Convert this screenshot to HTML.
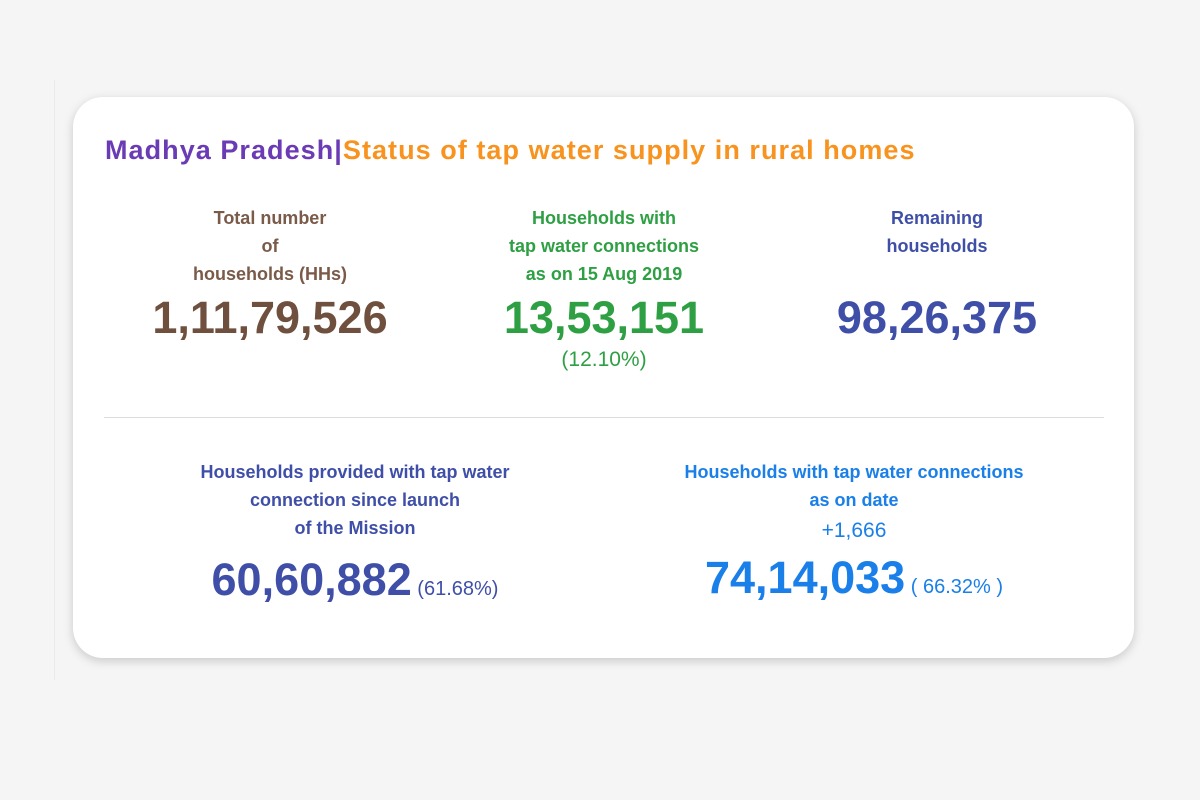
<!DOCTYPE html>
<html><head><meta charset="utf-8"><style>
body{margin:0;width:1200px;height:800px;background:#f5f5f5;font-family:"Liberation Sans",sans-serif;position:relative;overflow:hidden}
.vline{position:absolute;left:54px;top:80px;width:1px;height:600px;background:#ebebeb}
.card{position:absolute;left:73px;top:97px;width:1061px;height:561px;background:#fff;border-radius:30px;box-shadow:0 3px 10px rgba(0,0,0,0.18)}
.t{position:absolute;text-align:center;font-weight:bold;white-space:nowrap}
.lab{font-size:18px;line-height:28px}
.big{font-size:45px;line-height:50px;font-weight:bold}
.pct{font-size:20px;font-weight:normal}
</style></head><body>
<div class="vline"></div>
<div class="card"></div>
<div class="t" style="left:105px;top:135px;font-size:27px;letter-spacing:1.05px;text-align:left"><span style="color:#6a3bb4">Madhya Pradesh</span><span style="color:#6a3bb4">|</span><span style="color:#f7931e">Status of tap water supply in rural homes</span></div>

<div class="t lab" style="left:120px;width:300px;top:204px;color:#7a5a48">Total number<br>of<br>households (HHs)</div>
<div class="t big" style="left:120px;width:300px;top:293px;color:#6f4f3e">1,11,79,526</div>

<div class="t lab" style="left:454px;width:300px;top:204px;color:#2ea043">Households with<br>tap water connections<br>as on 15 Aug 2019</div>
<div class="t big" style="left:454px;width:300px;top:293px;color:#2ea043">13,53,151</div>
<div class="t" style="left:454px;width:300px;top:348px;font-size:21px;font-weight:normal;color:#2ea043">(12.10%)</div>

<div class="t lab" style="left:787px;width:300px;top:204px;color:#3f4fa8">Remaining<br>households</div>
<div class="t big" style="left:787px;width:300px;top:293px;color:#3f4fa8">98,26,375</div>

<div style="position:absolute;left:104px;top:417px;width:1000px;height:1px;background:#dcdcdc"></div>

<div class="t lab" style="left:155px;width:400px;top:458px;color:#3f4fa8">Households provided with tap water<br>connection since launch<br>of the Mission</div>
<div class="t big" style="left:155px;width:400px;top:555px;color:#3f4fa8">60,60,882<span class="pct"> (61.68%)</span></div>

<div class="t lab" style="left:654px;width:400px;top:458px;color:#1a7fe8">Households with tap water connections<br>as on date</div>
<div class="t" style="left:654px;width:400px;top:519px;font-size:21px;font-weight:normal;color:#1a7fe8">+1,666</div>
<div class="t big" style="left:654px;width:400px;top:553px;color:#1a7fe8">74,14,033<span class="pct"> ( 66.32% )</span></div>
</body></html>
